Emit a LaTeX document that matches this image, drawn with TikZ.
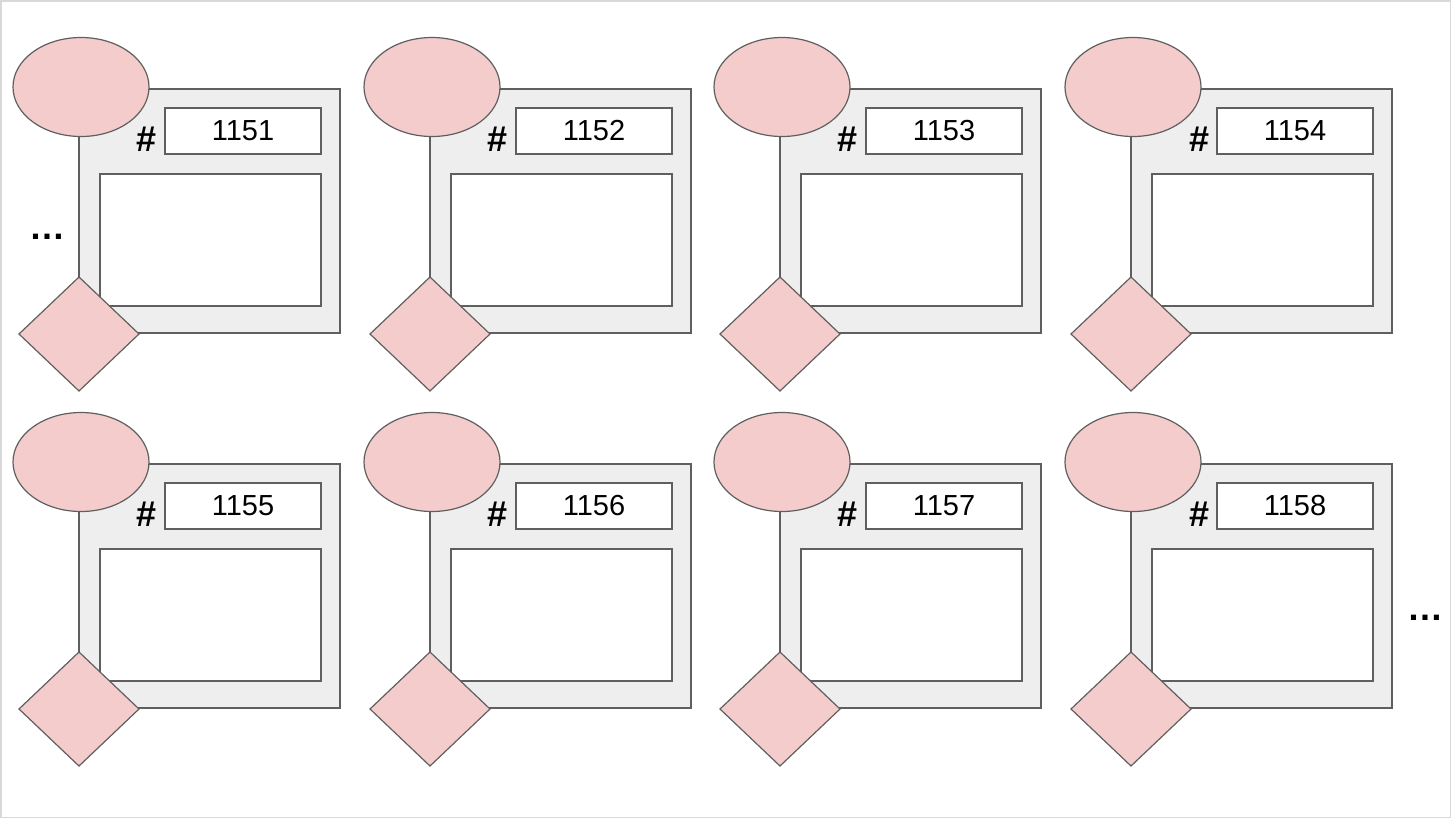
\documentclass[tikz,border=0pt]{standalone}
\usepackage{fontspec}
\setmainfont{Liberation Sans}
\usetikzlibrary{shapes.geometric}
\definecolor{pinkfill}{HTML}{F4CCCC}
\definecolor{edgecol}{HTML}{5F5F5F}
\definecolor{panelcol}{HTML}{EEEEEE}
\definecolor{framecol}{HTML}{D9D9D9}
\begin{document}
\begin{tikzpicture}[x=1pt,y=-1pt,
  panelbox/.style={draw=edgecol,fill=panelcol,line width=1.2pt,minimum width=261pt,minimum height=244pt,anchor=north west,inner sep=0pt,outer sep=0pt},
  numbox/.style={draw=edgecol,fill=white,line width=1.2pt,minimum width=156pt,minimum height=46pt,anchor=north west,inner sep=0pt,outer sep=0pt},
  bodybox/.style={draw=edgecol,fill=white,line width=1.2pt,minimum width=221pt,minimum height=132pt,anchor=north west,inner sep=0pt,outer sep=0pt},
  numtext/.style={font=\fontsize{29}{31}\selectfont,inner sep=0pt},
  hashtext/.style={font=\fontsize{36}{38}\selectfont\bfseries,inner sep=0pt},
  ovalshape/.style={ellipse,draw=edgecol,fill=pinkfill,line width=1.2pt,minimum width=136pt,minimum height=99pt,inner sep=0pt,outer sep=0pt},
  rhombshape/.style={diamond,draw=edgecol,fill=pinkfill,line width=1.2pt,minimum width=120pt,minimum height=114pt,inner sep=0pt,outer sep=0pt},
  dotstext/.style={font=\fontsize{36}{38}\selectfont\bfseries,inner sep=0pt}
]
\useasboundingbox (0,0) rectangle (1452,820);
\draw[framecol,line width=1.5pt] (0.75,0.75) rectangle (1450.5,817.5);
\foreach \n/\dx/\dy in {1151/0/0,1152/351/0,1153/701/0,1154/1052/0,1155/0/375,1156/351/375,1157/701/375,1158/1052/375}{
  \begin{scope}[shift={(\dx,\dy)}]
    \node[panelbox] (panel\n) at (79,89) {};
    \node[numbox] (num\n) at (165,108) {};
    \node[numtext] (numlabel\n) at (num\n.center) {\n};
    \node[bodybox] (body\n) at (100,174) {};
    \node[hashtext] (hash\n) at (147,139.5) {\#};
    \node[ovalshape] (oval\n) at (81,87) {};
    \node[rhombshape] (rhomb\n) at (79,334) {};
  \end{scope}
}
\node[dotstext] (dotsleft) at (48,237) {…};
\node[dotstext] (dotsright) at (1425,618) {…};
\end{tikzpicture}
\end{document}
